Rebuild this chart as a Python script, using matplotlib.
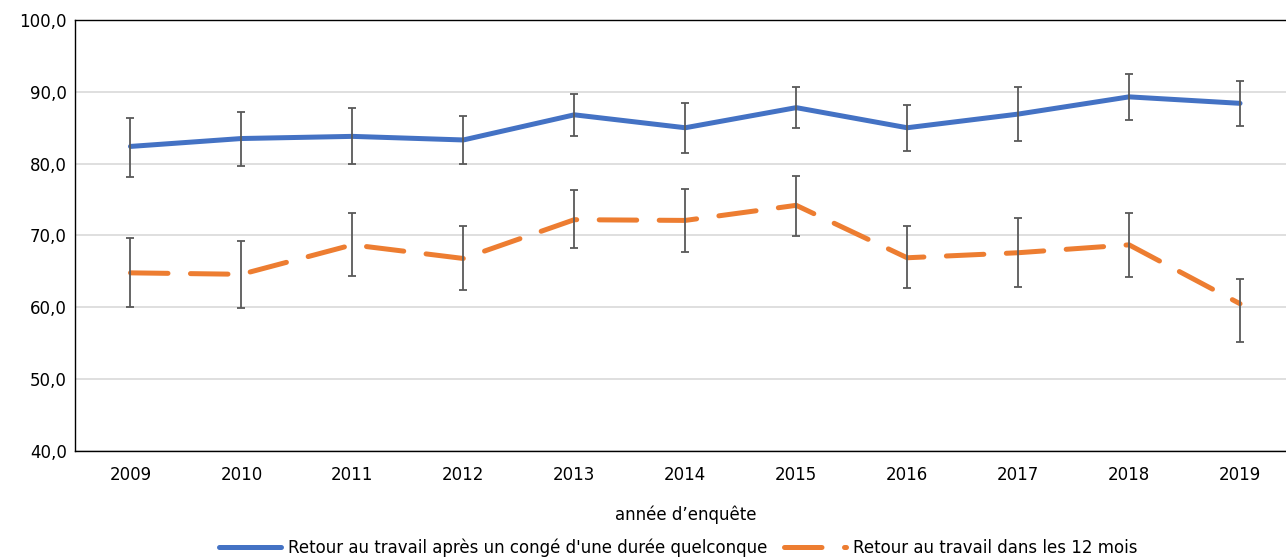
import matplotlib.pyplot as plt
import numpy as np

years = ["2009", "2010", "2011", "2012", "2013", "2014", "2015", "2016", "2017", "2018", "2019"]

# retour au travail apres un conge d'une duree quelconque
any_val = [82.4, 83.5, 83.8, 83.3, 86.8, 85.0, 87.8, 85.0, 86.9, 89.3, 88.4]
any_hi = [86.4, 87.2, 87.7, 86.7, 89.7, 88.4, 90.7, 88.2, 90.7, 92.5, 91.5]
any_lo = [78.2, 79.7, 80.0, 80.0, 83.9, 81.5, 84.9, 81.7, 83.1, 86.1, 85.3]

# retour au travail dans les 12 mois
m12_val = [64.8, 64.6, 68.7, 66.8, 72.2, 72.1, 74.2, 66.9, 67.6, 68.7, 60.5]
m12_hi = [69.7, 69.3, 73.1, 71.3, 76.3, 76.5, 78.3, 71.3, 72.5, 73.2, 64.0]
m12_lo = [60.0, 59.9, 64.3, 62.4, 68.2, 67.7, 69.9, 62.7, 62.9, 64.2, 55.2]

plt.rcParams["font.family"] = ["DejaVu Sans"]
fig = plt.figure(figsize=(12.86, 5.58), dpi=100)
ax = fig.add_axes([75 / 1286, 1 - 451 / 558, 1220.5 / 1286, 431 / 558])

x = np.arange(len(years))
any_val = np.array(any_val)
m12_val = np.array(m12_val)

ax.plot(x, any_val, color="#4472c4", lw=3.6, solid_capstyle="round", zorder=3,
        label="Retour au travail après un congé d'une durée quelconque")
ax.plot(x, m12_val, color="#ed7d31", lw=3.6, dashes=(7.5, 4.5), dash_capstyle="round", zorder=3,
        label="Retour au travail dans les 12 mois")

ax.errorbar(x, any_val, yerr=[any_val - np.array(any_lo), np.array(any_hi) - any_val],
            fmt="none", ecolor="#595959", elinewidth=1.3, capsize=3, capthick=1.3, zorder=4)
ax.errorbar(x, m12_val, yerr=[m12_val - np.array(m12_lo), np.array(m12_hi) - m12_val],
            fmt="none", ecolor="#595959", elinewidth=1.3, capsize=3, capthick=1.3, zorder=4)

ax.set_xlim(-0.5, 10.5)
ax.set_ylim(40, 100)
ax.set_yticks(np.arange(40, 101, 10))
ax.set_yticklabels([f"{v},0" for v in range(40, 101, 10)])
ax.set_xticks(x)
ax.set_xticklabels(years)
ax.tick_params(axis="both", length=0, labelsize=12, colors="#000000")
ax.tick_params(axis="x", pad=11)
ax.tick_params(axis="y", pad=6)
ax.grid(axis="y", color="#d9d9d9", lw=1.2)
ax.set_axisbelow(True)
for s in ["left", "bottom", "top"]:
    ax.spines[s].set_color("#000000")
    ax.spines[s].set_linewidth(1.0)
ax.spines["right"].set_visible(False)

ax.set_xlabel("année d’enquête", fontsize=12, labelpad=15)
fig.legend(loc="center", bbox_to_anchor=(678 / 1286, 1 - 548 / 558), ncol=2, frameon=False,
           fontsize=12, handlelength=3.75, columnspacing=1.0, handletextpad=0.4)

fig.savefig("out.png", dpi=100)
